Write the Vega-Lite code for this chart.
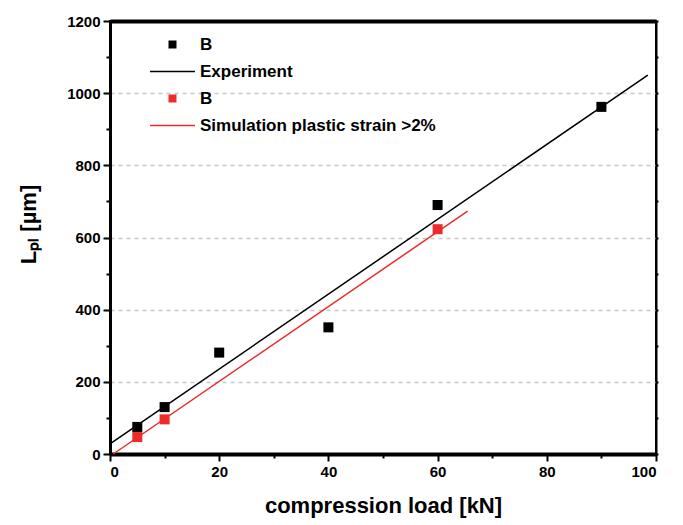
{
  "$schema": "https://vega.github.io/schema/vega-lite/v6.json",
  "width": 546,
  "height": 433,
  "autosize": {"type": "none"},
  "padding": {"left": 110, "top": 21, "right": 27, "bottom": 71},
  "background": "white",
  "config": {
    "view": {"stroke": "black", "strokeWidth": 2},
    "font": "Liberation Sans",
    "axis": {
      "domainColor": "black", "domainWidth": 2,
      "tickColor": "black", "tickWidth": 2,
      "labelFont": "Liberation Sans", "labelFontWeight": "bold", "labelFontSize": 15, "labelColor": "black",
      "titleFont": "Liberation Sans", "titleFontWeight": "bold", "titleFontSize": 22, "titleColor": "black"
    }
  },
  "resolve": {"axis": {"x": "independent", "y": "independent"}},
  "datasets": {
    "points": [
      {"load": 5, "L": 75, "series": "B_exp"},
      {"load": 10, "L": 130, "series": "B_exp"},
      {"load": 20, "L": 281, "series": "B_exp"},
      {"load": 40, "L": 351, "series": "B_exp"},
      {"load": 60, "L": 690, "series": "B_exp"},
      {"load": 90, "L": 962, "series": "B_exp"},
      {"load": 5, "L": 47, "series": "B_sim"},
      {"load": 10, "L": 96, "series": "B_sim"},
      {"load": 60, "L": 623, "series": "B_sim"}
    ],
    "lines": [
      {"load": 0, "L": 28, "series": "Experiment"},
      {"load": 98.5, "L": 1050, "series": "Experiment"},
      {"load": 0.6, "L": 0, "series": "Simulation"},
      {"load": 65.5, "L": 673, "series": "Simulation"}
    ]
  },
  "layer": [
    {
      "data": {"name": "lines"},
      "transform": [{"filter": "datum.series == 'Experiment'"}],
      "mark": {"type": "line", "color": "black", "strokeWidth": 1.5},
      "encoding": {
        "x": {
          "field": "load", "type": "quantitative",
          "scale": {"domain": [0, 100], "nice": false},
          "axis": {
            "title": "compression load [kN]",
            "orient": "bottom",
            "domainWidth": 4,
            "values": [0, 10, 20, 30, 40, 50, 60, 70, 80, 90, 100],
            "labelExpr": "datum.value % 20 == 0 ? datum.label : ''",
            "tickSize": {"condition": {"test": "datum.value % 20 == 0", "value": 7}, "value": 4},
            "grid": false,
            "labelPadding": 3,
            "titlePadding": 16
          }
        },
        "y": {
          "field": "L", "type": "quantitative",
          "scale": {"domain": [0, 1200], "nice": false},
          "axis": {
            "title": "Lₚₗ [µm]",
            "orient": "left",
            "domainWidth": 3,
            "values": [0, 100, 200, 300, 400, 500, 600, 700, 800, 900, 1000, 1100, 1200],
            "labelExpr": "datum.value % 200 == 0 ? datum.label : ''",
            "format": "d",
            "tickSize": {"condition": {"test": "datum.value % 200 == 0", "value": 7}, "value": 4},
            "grid": true,
            "gridColor": "#c8c8c8",
            "gridDash": [4, 4],
            "gridWidth": 1.5,
            "gridOpacity": {"condition": {"test": "datum.value % 200 == 0 && datum.value > 0 && datum.value < 1200", "value": 1}, "value": 0},
            "labelPadding": 3,
            "titlePadding": 26,
            "titleY": 203
          }
        }
      }
    },
    {
      "data": {"name": "lines"},
      "transform": [{"filter": "datum.series == 'Simulation'"}],
      "mark": {"type": "line", "color": "#ED2B2B", "strokeWidth": 1.5},
      "encoding": {
        "x": {
          "field": "load", "type": "quantitative",
          "axis": {"orient": "top", "title": null, "labels": false, "ticks": false, "grid": false, "domainWidth": 4}
        },
        "y": {
          "field": "L", "type": "quantitative",
          "axis": {
            "orient": "right", "title": null, "labels": false, "grid": false, "domainWidth": 2,
            "values": [0, 100, 200, 300, 400, 500, 600, 700, 800, 900, 1000, 1100, 1200],
            "tickSize": 2
          }
        }
      }
    },
    {
      "data": {"name": "points"},
      "mark": {"type": "point", "filled": true, "size": 980, "opacity": 1},
      "encoding": {
        "x": {"field": "load", "type": "quantitative", "axis": null},
        "y": {"field": "L", "type": "quantitative", "axis": null},
        "color": {
          "field": "series", "type": "nominal",
          "scale": {"domain": ["B_exp", "Experiment", "B_sim", "Simulation"], "range": ["black", "black", "#ED2B2B", "#ED2B2B"]},
          "legend": {
            "title": null, "orient": "none", "legendX": 50, "legendY": 11,
            "padding": 0, "symbolSize": 625, "rowPadding": 6, "labelOffset": 15, "labelLimit": 0,
            "labelFont": "Liberation Sans", "labelFontSize": 17, "labelFontWeight": "bold", "labelColor": "black",
            "symbolOpacity": 1, "symbolStrokeWidth": 0,
            "labelExpr": "datum.value == 'B_exp' || datum.value == 'B_sim' ? 'B' : datum.value == 'Experiment' ? 'Experiment' : 'Simulation plastic strain >2%'"
          }
        },
        "shape": {
          "field": "series", "type": "nominal",
          "scale": {"domain": ["B_exp", "Experiment", "B_sim", "Simulation"], "range": ["M-0.32,-0.32H0.32V0.32H-0.32Z", "M-1.8,-0.06H1.8V0.06H-1.8Z", "M-0.32,-0.32H0.32V0.32H-0.32Z", "M-1.8,-0.06H1.8V0.06H-1.8Z"]},
          "legend": {
            "title": null, "orient": "none", "legendX": 50, "legendY": 11,
            "padding": 0, "symbolSize": 625, "rowPadding": 6, "labelOffset": 15, "labelLimit": 0,
            "labelFont": "Liberation Sans", "labelFontSize": 17, "labelFontWeight": "bold", "labelColor": "black",
            "symbolOpacity": 1, "symbolStrokeWidth": 0,
            "labelExpr": "datum.value == 'B_exp' || datum.value == 'B_sim' ? 'B' : datum.value == 'Experiment' ? 'Experiment' : 'Simulation plastic strain >2%'"
          }
        }
      }
    }
  ]
}
